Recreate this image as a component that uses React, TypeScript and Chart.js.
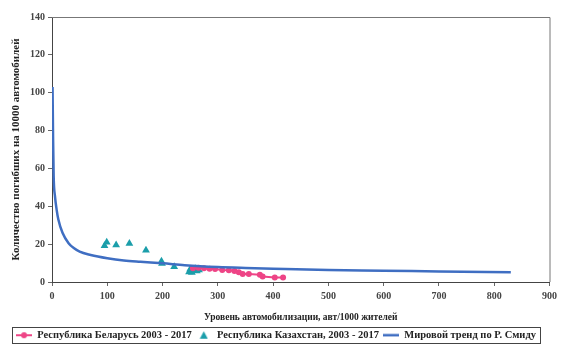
import { useEffect, useRef } from 'react';
import { Chart, registerables } from 'chart.js';

Chart.register(...registerables);

// Республика Беларусь 2003 - 2017
const belarusX = [255, 265, 275, 285, 295, 308, 320, 330, 338, 345, 356, 376, 381, 403, 418];
const belarusY = [7.3, 7.5, 7.2, 7.0, 6.9, 6.3, 6.2, 5.8, 5.2, 4.2, 4.2, 3.8, 2.9, 2.4, 2.4];

// Республика Казахстан, 2003 - 2017
const kazX = [95, 99, 116, 140, 170, 198, 199, 221, 248, 250, 253, 256, 259, 262, 266];
const kazY = [19.2, 21, 19.5, 20.3, 16.8, 11, 9.8, 8.1, 5.3, 6.8, 5.0, 6.2, 7.0, 5.8, 6.3];

// Мировой тренд по Р. Смиду
const trendX = [1, 2, 3, 5.5, 8.5, 11.5, 19, 30, 40, 50, 70, 100, 130, 160, 200, 240, 300, 350, 400, 500, 600, 700, 830];
const trendY = [103, 75, 56, 45, 38, 33, 26, 20.5, 17.8, 16, 14.3, 12.6, 11.4, 10.7, 9.9, 8.9, 7.9, 7.4, 7.0, 6.3, 6.0, 5.6, 5.2];

const xTicks = [0, 100, 200, 300, 400, 500, 600, 700, 800, 900];
const yTicks = [0, 20, 40, 60, 80, 100, 120, 140];

const seriesNames = [
  'Республика Беларусь 2003 - 2017',
  'Республика Казахстан, 2003 - 2017',
  'Мировой тренд по Р. Смиду',
];
const xTitle = 'Уровень автомобилизации, авт/1000 жителей';
const yTitle = 'Количество погибших на 10000 автомобилей';

const PINK = '#ee4486';
const TEAL = '#1b9eaa';
const BLUE = '#3f6ec2';
const FONT = "'Liberation Serif', 'DejaVu Serif', serif";

function makeSymbol(kind: 'lineDot' | 'triangle' | 'line'): HTMLCanvasElement {
  const c = document.createElement('canvas');
  if (kind === 'triangle') {
    c.width = 9; c.height = 9;
    const g = c.getContext('2d')!;
    g.fillStyle = TEAL;
    g.beginPath(); g.moveTo(4.5, 0.5); g.lineTo(8.5, 8); g.lineTo(0.5, 8); g.closePath(); g.fill();
  } else if (kind === 'lineDot') {
    c.width = 16; c.height = 8;
    const g = c.getContext('2d')!;
    g.strokeStyle = PINK; g.lineWidth = 2;
    g.beginPath(); g.moveTo(0, 4); g.lineTo(16, 4); g.stroke();
    g.fillStyle = PINK;
    g.beginPath(); g.arc(8, 4, 3, 0, Math.PI * 2); g.fill();
  } else {
    c.width = 16; c.height = 4;
    const g = c.getContext('2d')!;
    g.strokeStyle = BLUE; g.lineWidth = 2.5;
    g.beginPath(); g.moveTo(0, 2); g.lineTo(16, 2); g.stroke();
  }
  return c;
}

const framePlugin = {
  id: 'frame',
  beforeDatasetsDraw(chart: any) {
    const { ctx, chartArea: a } = chart;
    ctx.save();
    ctx.strokeStyle = '#777';
    ctx.lineWidth = 1;
    ctx.beginPath();
    ctx.moveTo(a.left, a.top + 0.5);
    ctx.lineTo(a.right + 0.5, a.top + 0.5);
    ctx.lineTo(a.right + 0.5, a.bottom);
    ctx.stroke();
    ctx.restore();
  },
  afterDraw(chart: any) {
    const lg = chart.legend;
    if (!lg || !lg.legendHitBoxes || !lg.legendHitBoxes.length) return;
    const hb = lg.legendHitBoxes;
    let l = Infinity, r = -Infinity, t = Infinity, b = -Infinity;
    hb.forEach((h: any) => {
      l = Math.min(l, h.left); r = Math.max(r, h.left + h.width);
      t = Math.min(t, h.top); b = Math.max(b, h.top + h.height);
    });
    const { ctx } = chart;
    ctx.save();
    ctx.strokeStyle = '#444';
    ctx.lineWidth = 1;
    ctx.strokeRect(Math.round(l - 4) + 0.5, Math.round(t - 3) + 0.5, Math.round(r - l + 8), Math.round(b - t + 5));
    ctx.restore();
  },
};

export default function App() {
  const ref = useRef<HTMLCanvasElement | null>(null);

  useEffect(() => {
    if (!ref.current) return;
    Chart.defaults.font.family = FONT;
    const symbols = [makeSymbol('lineDot'), makeSymbol('triangle'), makeSymbol('line')];
    const chart = new Chart(ref.current, {
      type: 'scatter',
      data: {
        datasets: [
          {
            label: seriesNames[0],
            data: belarusX.map((x, i) => ({ x, y: belarusY[i] })),
            showLine: true,
            borderColor: PINK,
            backgroundColor: PINK,
            borderWidth: 2,
            pointRadius: 3,
            pointStyle: 'circle',
            pointBorderWidth: 0,
            order: 1,
          },
          {
            label: seriesNames[1],
            data: kazX.map((x, i) => ({ x, y: kazY[i] })),
            showLine: false,
            borderColor: TEAL,
            backgroundColor: TEAL,
            pointRadius: 4.5,
            pointStyle: 'triangle',
            pointBorderWidth: 0,
            order: 2,
          },
          {
            label: seriesNames[2],
            data: trendX.map((x, i) => ({ x, y: trendY[i] })),
            showLine: true,
            borderColor: BLUE,
            backgroundColor: BLUE,
            borderWidth: 2.5,
            pointRadius: 0,
            cubicInterpolationMode: 'monotone',
            order: 0,
          },
        ],
      },
      options: {
        responsive: false,
        animation: false,
        events: [],
        layout: { padding: { left: 0, right: 9, top: 17, bottom: 3 } },
        plugins: {
          tooltip: { enabled: false },
          legend: {
            position: 'bottom',
            maxHeight: 20,
            labels: {
              usePointStyle: true,
              pointStyleWidth: 16,
              padding: 4,
              color: '#222',
              font: { family: FONT, size: 10.5, weight: 'bold' },
              sort: (a: any, b: any) => a.datasetIndex - b.datasetIndex,
              generateLabels: (ch: any) =>
                ch.data.datasets.map((d: any, i: number) => ({
                  text: d.label,
                  datasetIndex: i,
                  pointStyle: symbols[i],
                  fillStyle: d.backgroundColor,
                  strokeStyle: d.borderColor,
                  lineWidth: 0,
                  hidden: false,
                  fontColor: '#222',
                })),
            },
          },
        },
        scales: {
          x: {
            type: 'linear',
            min: 0,
            max: 900,
            afterFit: (s: any) => { s.height = 44; },
            afterBuildTicks: (s: any) => { s.ticks = xTicks.map((v) => ({ value: v })); },
            ticks: { padding: 4, color: '#444', font: { family: FONT, size: 10, weight: 'bold' }, maxRotation: 0 },
            grid: { display: true, drawOnChartArea: false, drawTicks: true, tickLength: 4, color: '#666' },
            border: { display: true, color: '#444', width: 1 },
            title: {
              display: true,
              text: xTitle,
              color: '#222',
              font: { family: FONT, size: 9.5, weight: 'bold' },
              padding: { top: 0, bottom: 3 },
            },
          },
          y: {
            type: 'linear',
            min: 0,
            max: 140,
            afterFit: (s: any) => { s.width = 52; },
            afterBuildTicks: (s: any) => { s.ticks = yTicks.map((v) => ({ value: v })); },
            ticks: { padding: 3, color: '#444', font: { family: FONT, size: 10, weight: 'bold' } },
            grid: { display: true, drawOnChartArea: false, drawTicks: true, tickLength: 4, color: '#666' },
            border: { display: true, color: '#444', width: 1 },
            title: {
              display: true,
              text: yTitle,
              color: '#222',
              font: { family: FONT, size: 11, weight: 'bold' },
              padding: { top: 10, bottom: 0 },
            },
          },
        },
      },
      plugins: [framePlugin],
    } as any);
    return () => chart.destroy();
  }, []);

  return (
    <div style={{ position: 'absolute', left: 0, top: 0, width: 561, height: 349, background: '#fff' }}>
      <canvas ref={ref} width={561} height={349} style={{ display: 'block' }} />
    </div>
  );
}
